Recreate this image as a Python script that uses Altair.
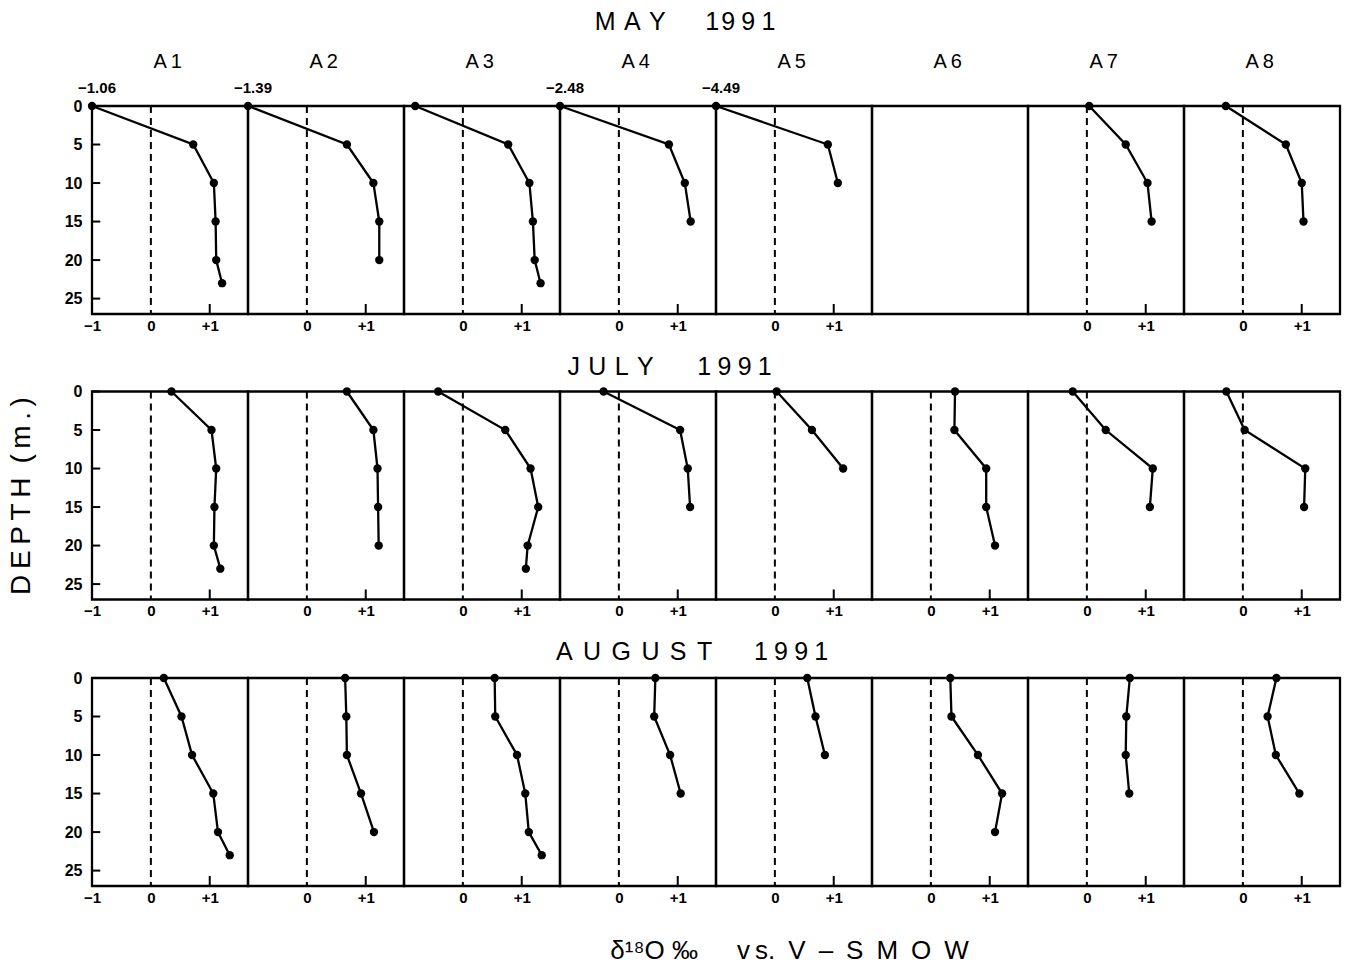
import altair as alt
import pandas as pd

STATIONS = ["A1", "A2", "A3", "A4", "A5", "A6", "A7", "A8"]
MONTHS = ["MAY 1991", "JULY 1991", "AUGUST 1991"]
Y_TICKS = [0, 5, 10, 15, 20, 25]
X_TICKS_FIRST = [-1, 0, 1]
X_TICKS = [0, 1]

# sampling depths (m)
D3 = [0, 5, 10]
D4 = [0, 5, 10, 15]
D5 = [0, 5, 10, 15, 20]
D6 = [0, 5, 10, 15, 20, 23]

# delta 18O values (per mil vs V-SMOW), May 1991
may_A1 = [-1.06, 0.72, 1.07, 1.10, 1.11, 1.21]
may_A2 = [-1.39, 0.68, 1.13, 1.23, 1.23]
may_A3 = [-0.81, 0.77, 1.13, 1.19, 1.22, 1.32]
may_A4 = [-2.48, 0.85, 1.12, 1.22]
may_A5 = [-4.49, 0.90, 1.07]
may_A6 = []
may_A7 = [0.04, 0.66, 1.03, 1.10]
may_A8 = [-0.29, 0.73, 1.00, 1.03]

# July 1991
jul_A1 = [0.35, 1.03, 1.11, 1.08, 1.07, 1.18]
jul_A2 = [0.68, 1.13, 1.20, 1.21, 1.22]
jul_A3 = [-0.42, 0.72, 1.15, 1.28, 1.10, 1.07]
jul_A4 = [-0.26, 1.04, 1.17, 1.21]
jul_A5 = [0.03, 0.63, 1.16]
jul_A6 = [0.41, 0.40, 0.94, 0.94, 1.09]
jul_A7 = [-0.24, 0.32, 1.12, 1.07]
jul_A8 = [-0.28, 0.03, 1.06, 1.04]

# August 1991
aug_A1 = [0.22, 0.52, 0.70, 1.06, 1.14, 1.34]
aug_A2 = [0.65, 0.67, 0.68, 0.92, 1.14]
aug_A3 = [0.54, 0.55, 0.92, 1.06, 1.12, 1.34]
aug_A4 = [0.62, 0.60, 0.87, 1.05]
aug_A5 = [0.55, 0.69, 0.85]
aug_A6 = [0.33, 0.35, 0.80, 1.21, 1.09]
aug_A7 = [0.73, 0.67, 0.66, 0.72]
aug_A8 = [0.57, 0.42, 0.56, 0.96]

MAY = [(may_A1, D6), (may_A2, D5), (may_A3, D6), (may_A4, D4),
       (may_A5, D3), (may_A6, []), (may_A7, D4), (may_A8, D4)]
JUL = [(jul_A1, D6), (jul_A2, D5), (jul_A3, D6), (jul_A4, D4),
       (jul_A5, D3), (jul_A6, D5), (jul_A7, D4), (jul_A8, D4)]
AUG = [(aug_A1, D6), (aug_A2, D5), (aug_A3, D6), (aug_A4, D4),
       (aug_A5, D3), (aug_A6, D5), (aug_A7, D4), (aug_A8, D4)]
ROWS = [MAY, JUL, AUG]

XDOM = [-1, 1.65]
YDOM = [0, 27]
FONT = "Liberation Sans"
PW, PH = 156, 208

ROW_TITLES = [
    "M\u2004A\u2004Y\u2003\u2005\u20041\u200a9\u20059\u20051",
    "J\u2004U\u2004L\u2004Y\u2003\u2002\u20051\u20059\u20059\u20051",
    "A\u2004\u200aU\u2004\u200aG\u2004\u200aU\u2004\u200aS\u2004\u200aT\u2003\u2004\u20041\u20059\u20059\u20051",
]
ROW_DX = [-17, -4, -10]
ROW_OFFSET = [16, 2.5, 3.5]
DEPTH_TITLE = "D\u2009E\u2009P\u2009T\u2009H\u2002(\u2009m\u2009.\u2009)"
X_TITLE = ("\u03b4\u00b9\u2078O \u2030\u2003\u2002v\u2009s.\u2002"
           "V\u2002\u2013\u2002S\u2002M\u2002O\u2002W")


def panel(vals, depths, col, row):
    empty = len(vals) == 0
    xs = alt.Scale(domain=XDOM, clamp=True, nice=False, zero=False)
    ys = alt.Scale(domain=YDOM, reverse=True, nice=False, zero=False)
    if empty:
        xaxis = None
    else:
        xaxis = alt.Axis(
            values=X_TICKS_FIRST if col == 0 else X_TICKS,
            labelExpr="datum.value > 0 ? '+1' : (datum.value < 0 ? '\u22121' : '0')",
            title=None, grid=False, domain=False, ticks=False,
            labelPadding=4, labelFont=FONT, labelFontSize=15,
            labelFontWeight="bold", labelColor="black",
            labelFlush=False, labelOverlap=False,
        )
    if col == 0:
        yaxis = alt.Axis(
            values=Y_TICKS, title=DEPTH_TITLE if row == 1 else None,
            grid=False, domain=False, ticks=False, labelPadding=10,
            labelFont=FONT, labelFontSize=16, labelFontWeight="bold",
            labelColor="black", labelFlush=False, labelOverlap=False,
            titleFont=FONT, titleFontSize=28, titleFontWeight="normal",
            titleColor="black", titlePadding=29,
        )
    else:
        yaxis = None

    one = pd.DataFrame({"k": [0]})

    def X(v):
        return alt.XDatum(v, type="quantitative", scale=xs, axis=xaxis)

    def Y(v):
        return alt.YDatum(v, type="quantitative", scale=ys, axis=yaxis)

    layers = []
    zero_rule = alt.Chart(one).mark_rule(
        color="black", strokeWidth=2, strokeDash=[7, 5],
        strokeOpacity=0 if empty else 1,
    ).encode(x=X(0), y=Y(YDOM[0]), y2=alt.datum(YDOM[1]))
    layers.append(zero_rule)

    if not empty:
        xtick = alt.Chart(one).mark_rule(color="black", strokeWidth=2).encode(
            x=X(1), y=Y(YDOM[1]), y2=alt.datum(25.7)
        )
        layers.append(xtick)

    if col == 0:
        ytick = alt.Chart(pd.DataFrame({"d": Y_TICKS})).mark_rule(
            color="black", strokeWidth=2
        ).encode(
            x=X(-1), x2=alt.datum(-0.86),
            y=alt.Y("d:Q", scale=ys, axis=yaxis),
        )
        layers.append(ytick)

    if not empty:
        df = pd.DataFrame({"v": vals, "d": depths, "o": list(range(len(vals)))})
        enc = dict(
            x=alt.X("v:Q", scale=xs, axis=xaxis),
            y=alt.Y("d:Q", scale=ys, axis=yaxis),
            order="o:Q",
        )
        layers.append(alt.Chart(df).mark_line(color="black", strokeWidth=2.3).encode(**enc))
        layers.append(alt.Chart(df).mark_point(
            filled=True, color="black", size=70, opacity=1, shape="circle"
        ).encode(x=enc["x"], y=enc["y"]))

    if row == 0:
        layers.append(alt.Chart(one).mark_text(
            text=STATIONS[col][0] + "\u2009" + STATIONS[col][1:],
            font=FONT, fontSize=20, dy=-44,
            baseline="middle", align="center", color="black",
        ).encode(x=X((XDOM[0] + XDOM[1]) / 2 - 0.04), y=Y(0)))
        if not empty and vals[0] < XDOM[0]:
            lab = "\u2212" + f"{abs(vals[0]):.2f}"
            layers.append(alt.Chart(one).mark_text(
                text=lab, font=FONT, fontSize=15, fontWeight="bold", dy=-18, dx=5,
                baseline="middle", align="center", color="black",
            ).encode(x=X(XDOM[0]), y=Y(0)))

    return alt.layer(*layers).properties(width=PW, height=PH)


rows = []
for r, series in enumerate(ROWS):
    panels = [panel(v, d, c, r) for c, (v, d) in enumerate(series)]
    rows.append(alt.hconcat(
        *panels, spacing=0, bounds="flush",
        title=alt.TitleParams(
            ROW_TITLES[r], font=FONT, fontSize=25, fontWeight="normal",
            color="black", anchor="middle", dx=ROW_DX[r], offset=ROW_OFFSET[r],
        ),
    ))

chart = alt.vconcat(
    *rows, spacing=19.5,
    title=alt.TitleParams(
        X_TITLE, orient="bottom", font=FONT, fontSize=26, fontWeight="normal",
        color="black", anchor="middle", dx=116, offset=32,
    ),
).properties(
    padding={"left": 6, "top": 9, "right": 5, "bottom": 2},
    background="white",
).configure_view(
    stroke="black", strokeWidth=2.3,
)

chart.save("out.html", embed_options={"renderer": "svg", "actions": False})
